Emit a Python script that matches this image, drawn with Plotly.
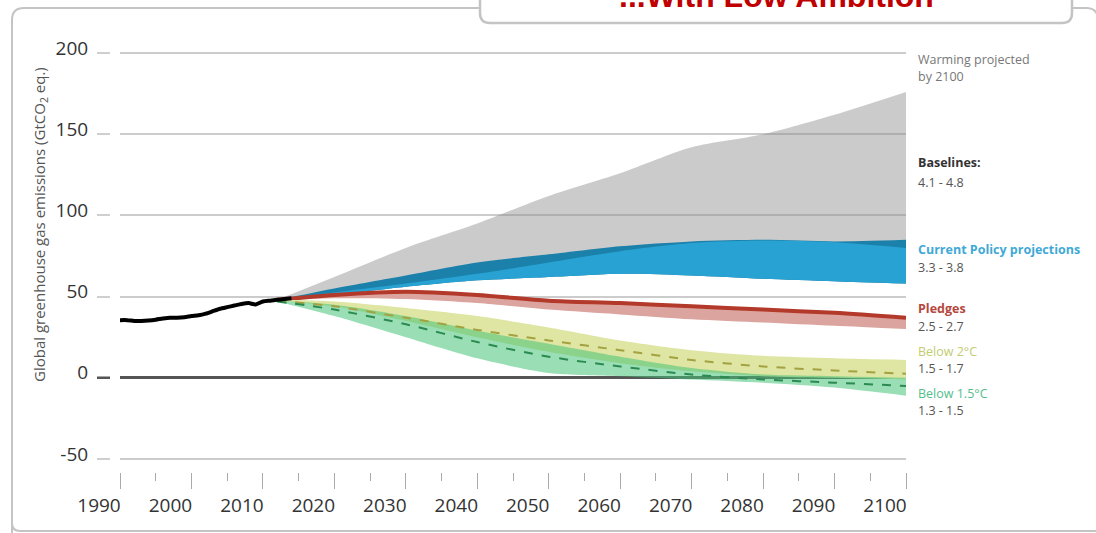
import plotly.graph_objects as go

W, H = 1096, 533

# ---------------- data ----------------
hist_years = list(range(1990, 2015))
hist_values = [35.5, 35.5, 35.0, 35.0, 35.3, 35.8, 36.5, 37.0, 37.0, 37.3,
               38.0, 38.5, 39.5, 41.0, 42.5, 43.5, 44.5, 45.5, 46.0, 45.2,
               47.0, 47.5, 48.0, 48.5, 49.0]

proj_years = [2012, 2020, 2030, 2040, 2050, 2060, 2070, 2080, 2090, 2100]
baseline_upper = [48, 62, 80, 95, 112, 126, 142, 150, 162, 176]
baseline_lower = [48, 51, 56, 60, 62, 64, 63, 61, 59.5, 58]
policy_upper = [48, 55, 63, 71, 76, 81, 84, 85, 84, 85]
policy_mid = [48, 52.5, 58, 64, 71, 78, 83, 84.5, 83.5, 80]
policy_lower = [48, 51, 56, 60, 62, 64, 63, 61, 59.5, 58]
pledges_line = [48, 51, 53, 51, 47.5, 46, 44, 42, 40, 37]
pledges_lower = [48, 49, 48.5, 46, 42, 39, 36, 34, 32, 30]
below2_upper = [48, 47, 43, 38, 31, 23, 17, 13.5, 12, 11]
below2_median = [47.5, 44, 37, 29.5, 23, 17, 11, 7, 4.5, 2.5]
below2_lower = [47.5, 44, 35, 25, 16, 9, 4, 1, 0, -1]
below15_upper = [47.5, 45, 38, 29, 21, 13, 6, 2, 1, 0]
below15_median = [47, 42, 33, 22, 13, 7, 2, -1, -3, -5]
below15_lower = [47, 38, 25, 12, 3, 1, -1, -3, -6, -11]

y_ticks = [-50, 0, 50, 100, 150, 200]
y_tick_text = ["-50", "0", "50", "100", "150", "200"]
x_ticks = list(range(1990, 2101, 10))

side_labels = [
    ("Warming projected", 60, "#777777", False),
    ("by 2100", 77, "#777777", False),
    ("Baselines:", 163, "#333333", True),
    ("4.1 - 4.8", 182, "#555555", False),
    ("Current Policy projections", 249, "#3fa9d6", True),
    ("3.3 - 3.8", 267, "#555555", False),
    ("Pledges", 308, "#b5473d", True),
    ("2.5 - 2.7", 326, "#555555", False),
    ("Below 2°C", 351, "#c2cc72", False),
    ("1.5 - 1.7", 368, "#555555", False),
    ("Below 1.5°C", 393, "#52be8c", False),
    ("1.3 - 1.5", 410, "#555555", False),
]


def px(x):
    return x / W


def py(y):
    return 1 - y / H


fig = go.Figure()


def band(lower, upper, color):
    fig.add_trace(go.Scatter(x=proj_years, y=lower, mode="lines",
                             line=dict(width=0, shape="spline", smoothing=0.8),
                             hoverinfo="skip", showlegend=False))
    fig.add_trace(go.Scatter(x=proj_years, y=upper, mode="lines", fill="tonexty",
                             fillcolor=color,
                             line=dict(width=0, shape="spline", smoothing=0.8),
                             hoverinfo="skip", showlegend=False))


band(baseline_lower, baseline_upper, "rgba(140,140,140,0.45)")
band(policy_lower, policy_upper, "#1b80aa")
band(policy_lower, policy_mid, "#27a2d2")
band(pledges_lower, pledges_line, "#dba49e")
fig.add_trace(go.Scatter(x=proj_years, y=pledges_line, mode="lines",
                         line=dict(color="#b3392b", width=4, shape="spline", smoothing=0.8),
                         showlegend=False))
band(below2_lower, below2_upper, "#dfe5a2")
band(below15_lower, below15_upper, "rgba(70,195,120,0.55)")
fig.add_trace(go.Scatter(x=proj_years, y=below2_median, mode="lines",
                         line=dict(color="#a3a240", width=2, dash="dash",
                                   shape="spline", smoothing=0.8),
                         showlegend=False))
fig.add_trace(go.Scatter(x=proj_years, y=below15_median, mode="lines",
                         line=dict(color="#2a8a50", width=2, dash="dash",
                                   shape="spline", smoothing=0.8),
                         showlegend=False))
fig.add_trace(go.Scatter(x=hist_years, y=hist_values, mode="lines",
                         line=dict(color="black", width=4, shape="spline", smoothing=0.6),
                         showlegend=False))

# axes geometry: 1990 -> 120px, 2100 -> 906px ; 200 -> 53px, -50 -> 459px
ymin, ymax = -52, 202
ppu = (459 - 53) / 250.0
top_px = 53 - (ymax - 200) * ppu
bot_px = 459 + (-50 - ymin) * ppu

fig.update_layout(
    width=W, height=H,
    margin=dict(l=0, r=0, t=0, b=0, autoexpand=False),
    paper_bgcolor="white", plot_bgcolor="white",
    showlegend=False,
    xaxis=dict(domain=[px(120), px(906)], range=[1990, 2100], automargin=False,
               anchor="free", position=py(472),
               tickvals=x_ticks, ticks="outside", ticklen=16, tickwidth=1.2,
               tickcolor="#aaaaaa", showgrid=False, showline=False, zeroline=False,
               ticklabelshift=-21,
               tickfont=dict(family="Open Sans", size=19, color="#333333"),
               minor=dict(dtick=5, tick0=1990, ticks="outside", ticklen=8,
                          tickwidth=1.2, tickcolor="#aaaaaa", showgrid=False)),
    yaxis=dict(domain=[py(bot_px), py(top_px)], range=[ymin, ymax], automargin=False,
               anchor="free", position=px(110),
               tickvals=y_ticks, ticktext=y_tick_text,
               ticks="outside", ticklen=13, tickwidth=1.5,
               tickcolor="#cfcfcf", showgrid=True, gridcolor="#cccccc", gridwidth=1.5,
               zeroline=True, zerolinecolor="#555555", zerolinewidth=2.5,
               showline=False, ticklabelstandoff=5, ticklabelshift=-5,
               tickfont=dict(family="Open Sans", size=19, color="#333333")),
)

# zero tick dash darker
fig.add_shape(type="line", xref="paper", yref="y", x0=px(97), x1=px(110), y0=0, y1=0,
              line=dict(color="#555555", width=2.5))

# outer frame
frame = (f"M {px(12)},{py(545)} L {px(12)},{py(20)} Q {px(12)},{py(8)} {px(24)},{py(8)} "
         f"L {px(1086)},{py(8)} Q {px(1098)},{py(8)} {px(1098)},{py(20)} "
         f"L {px(1098)},{py(545)}")
fig.add_shape(type="path", xref="paper", yref="paper", path=frame,
              line=dict(color="#c4c4c4", width=2))
fig.add_shape(type="path", xref="paper", yref="paper",
              path=(f"M {px(12)},{py(523)} Q {px(12)},{py(531)} {px(20)},{py(531)} "
                    f"L {px(1100)},{py(531)}"),
              line=dict(color="#c4c4c4", width=2))
# title box
tbox = (f"M {px(480)},{py(-10)} L {px(480)},{py(13)} Q {px(480)},{py(23)} {px(490)},{py(23)} "
        f"L {px(1062)},{py(23)} Q {px(1072)},{py(23)} {px(1072)},{py(13)} "
        f"L {px(1072)},{py(-10)} Z")
fig.add_shape(type="path", xref="paper", yref="paper", path=tbox,
              fillcolor="white", line=dict(color="#c4c4c4", width=2.5))

fig.add_annotation(text="<b>...With Low Ambition</b>", xref="paper", yref="paper",
                   x=px(776), y=py(-4), xanchor="center", yanchor="middle",
                   showarrow=False,
                   font=dict(family="Liberation Sans", size=32, color="#c00000"))

# y title
fig.add_annotation(text="Global greenhouse gas emissions (GtCO<sub>2</sub> eq.)",
                   xref="paper", yref="paper", x=px(40), y=py(225),
                   xanchor="center", yanchor="middle", textangle=-90, showarrow=False,
                   font=dict(family="Open Sans", size=15, color="#555555"))

for text, yc, color, bold in side_labels:
    fig.add_annotation(text=f"<b>{text}</b>" if bold else text,
                       xref="paper", yref="paper", x=px(916), y=py(yc),
                       xanchor="left", yanchor="middle", showarrow=False,
                       font=dict(family="Open Sans", size=12.5, color=color))

fig.write_html("out.html")
